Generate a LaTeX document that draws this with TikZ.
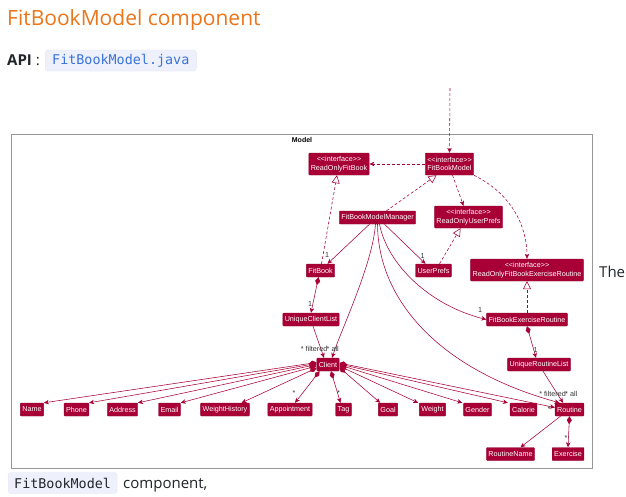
\documentclass[tikz,border=0pt]{standalone}
\usepackage{fontspec}
\setmainfont{Open Sans}
\newfontfamily\umlfam{Liberation Sans}
\newfontfamily\codefam{DejaVu Sans Mono}
\usetikzlibrary{arrows.meta}
\definecolor{umlred}{RGB}{168,0,54}
\definecolor{umlborder}{RGB}{140,0,45}
\definecolor{titleorange}{RGB}{234,117,26}
\definecolor{codeblue}{RGB}{55,115,220}
\definecolor{codebg}{RGB}{238,240,251}
\definecolor{codeborder}{RGB}{226,229,244}
\definecolor{framegray}{RGB}{150,150,150}
\definecolor{bodytext}{RGB}{33,37,41}
\newcommand\umlfont{\umlfam\fontsize{7.2}{8.6}\selectfont}
\newcommand\ifctext[1]{\textless\textless interface\textgreater\textgreater\\#1}
\tikzset{
  cls/.style={fill=umlred, draw=umlborder, line width=0.4pt, text=white, font=\umlfont,
    inner xsep=2pt, inner ysep=1pt, minimum height=13pt, rounded corners=0.8pt},
  ifc/.style={cls, minimum height=22pt, align=center},
  ln/.style={draw=umlred, line width=0.55pt},
  dep/.style={ln, dash pattern=on 3pt off 2pt, -{Stealth[length=5pt,width=4.5pt,inset=1.5pt]}},
  real/.style={ln, dash pattern=on 3pt off 2pt, -{Triangle[open,length=8pt,width=8pt,fill=white]}},
  asc/.style={ln, -{Stealth[length=5pt,width=4.5pt,inset=1.5pt]}},
  comp/.style={ln, {Diamond[length=8pt,width=5pt]}-{Stealth[length=5pt,width=4.5pt,inset=1.5pt]}},
  lbl/.style={font=\umlfont, text=black!80, inner sep=0pt},
}
\begin{document}
\begin{tikzpicture}[x=1pt,y=-1pt]
\useasboundingbox (0,0) rectangle (626,496);
\fill[white] (0,0) rectangle (626,496);

% page text
\node[anchor=base west, inner sep=0, text=titleorange, font=\fontsize{21}{25}\selectfont] (title) at (7,25.5) {FitBookModel component};
\node[anchor=base west, inner sep=0, text=bodytext, font=\fontsize{15}{18}\selectfont] (apilbl) at (7,65) {{\bfseries API} :};
\node[anchor=west, fill=codebg, draw=codeborder, rounded corners=3pt, inner xsep=7pt, inner ysep=0pt, minimum height=21pt,
  text=codeblue, font=\codefam\fontsize{13.4}{16}\selectfont] (api) at (45,60.5) {FitBookModel.java};
\node[anchor=base west, inner sep=0, text=bodytext, font=\fontsize{15}{18}\selectfont] (the) at (599,277) {The};
\node[anchor=west, fill=codebg, draw=codeborder, rounded corners=3pt, inner xsep=6pt, inner ysep=0pt, minimum height=21pt,
  text=bodytext, font=\codefam\fontsize{13.4}{16}\selectfont] (fbmcode) at (8,483) {FitBookModel};
\node[anchor=base west, inner sep=0, text=bodytext, font=\fontsize{15}{18}\selectfont] (comp) at (123,488) {component,};

% frame
\draw[framegray, line width=0.9pt] (11,134) rectangle (592,468);
\node[font=\umlfam\bfseries\fontsize{7}{8}\selectfont, inner sep=0] (model) at (302,140) {Model};

% nodes
\node[ifc] (rofb) at (339,164) {\ifctext{ReadOnlyFitBook}};
\node[ifc] (fbm) at (449.5,164) {\ifctext{FitBookModel}};
\node[cls] (mgr) at (377.5,217.5) {FitBookModelManager};
\node[ifc] (rup) at (468.5,217) {\ifctext{ReadOnlyUserPrefs}};
\node[cls] (fb) at (320.5,270.5) {FitBook};
\node[cls] (up) at (433.5,270.5) {UserPrefs};
\node[ifc] (rofer) at (527,270) {\ifctext{ReadOnlyFitBookExerciseRoutine}};
\node[cls] (ucl) at (311,319.5) {UniqueClientList};
\node[cls] (fer) at (527,319.5) {FitBookExerciseRoutine};
\node[cls] (url) at (539,364.5) {UniqueRoutineList};
\node[cls] (cl) at (328,364.5) {Client};
\node[cls] (nName) at (32,409.5) {Name};
\node[cls] (nPhone) at (76.5,409.5) {Phone};
\node[cls] (nAddr) at (122.5,409.5) {Address};
\node[cls] (nEmail) at (169.5,409.5) {Email};
\node[cls] (nWH) at (225,409.5) {WeightHistory};
\node[cls] (nAppt) at (290,409.5) {Appointment};
\node[cls] (nTag) at (343.5,409.5) {Tag};
\node[cls] (nGoal) at (388,409.5) {Goal};
\node[cls] (nWeight) at (432.5,409.5) {Weight};
\node[cls] (nGender) at (477.5,409.5) {Gender};
\node[cls] (nCal) at (523.5,409.5) {Calorie};
\node[cls] (rt) at (569.5,409.5) {Routine};
\node[cls] (rn) at (510.5,454) {RoutineName};
\node[cls] (ex) at (568,454) {Exercise};

% interface links
\coordinate (topin) at (450,88);
\draw[dep] (topin) -- (fbm.north);
\draw[dep] (fbm.west) -- (rofb.east);
\draw[real] ([xshift=9pt]mgr.north) -- ([xshift=-13pt]fbm.south);
\draw[real] ([xshift=1pt]fb.north) -- ([xshift=-2pt]rofb.south);
\draw[dep] ([xshift=3pt]fbm.south) -- ([xshift=-5pt]rup.north);
\draw[real] ([xshift=6pt]up.north) -- ([xshift=-8pt]rup.south);
\draw[dep] (fbm.south east) .. controls +(40,20) and +(0,-30) .. (rofer.north);
\draw[real] (fer.north) -- (rofer.south);

% manager associations
\draw[asc] ([xshift=-8pt]mgr.south) -- ([xshift=7pt]fb.north);
\node[lbl] (l1) at (327,255) {1};
\draw[asc] ([xshift=7pt]mgr.south) -- ([xshift=-8pt]up.north);
\node[lbl] (l2) at (422.5,256) {1};
\draw[asc] ([xshift=2pt]mgr.south) .. controls +(8,41) and +(-56,-14) .. (fer.west);
\node[lbl] (l3) at (480,310) {1};
\draw[asc] ([xshift=-2pt]mgr.south) .. controls +(-3,40) and +(10,-30) .. ([xshift=4pt]cl.north);
\draw[asc] (mgr.south) .. controls +(0.5,76) and +(-120,-33) .. ([xshift=-10pt]rt.north);

% client list
\draw[comp] ([xshift=-2pt]fb.south) -- (ucl.north);
\node[lbl] (l4) at (310,304) {1};
\draw[asc] ([xshift=2pt]ucl.south) -- ([xshift=-4pt]cl.north);
\node[lbl, anchor=east] (l5) at (327.5,349) {* filtered};
\node[lbl, anchor=west] (l6) at (326.5,349) {* all};

% client attributes
\draw[comp] ([yshift=2pt]cl.west) -- (nName.north east);
\draw[comp] ([yshift=1pt]cl.west) -- (nPhone.north east);
\draw[comp] ([yshift=0pt]cl.west) -- (nAddr.north east);
\draw[comp] ([yshift=-1.5pt]cl.west) -- (nEmail.north east);
\draw[comp] ([yshift=-3.5pt]cl.west) -- ([xshift=-8pt]nWH.north east);
\draw[comp] ([xshift=3pt]cl.south west) -- ([xshift=5pt]nAppt.north);
\node[lbl] (l7) at (294,393.5) {*};
\draw[comp] ([xshift=3pt]cl.south) -- ([xshift=-3pt]nTag.north);
\node[lbl] (l8) at (338.5,393.5) {*};
\draw[comp] ([yshift=-3pt]cl.east) -- ([xshift=2pt]nGoal.north west);
\draw[comp] ([yshift=-1.5pt]cl.east) -- ([xshift=-1pt]nWeight.north west);
\draw[comp] ([yshift=-0.5pt]cl.east) -- ([xshift=-1pt]nGender.north west);
\draw[comp] ([yshift=0.5pt]cl.east) -- ([xshift=-2pt]nCal.north west);
\draw[comp] ([yshift=1.5pt]cl.east) -- ([yshift=2pt]rt.west);
\node[lbl] (l9) at (549,409) {*};

% routine list
\draw[comp] (fer.south) -- ([xshift=-3pt]url.north);
\node[lbl] (l10) at (535.5,350) {1};
\draw[asc] ([xshift=4pt]url.south) -- ([xshift=-6.5pt]rt.north);
\node[lbl, anchor=east] (l11) at (566,394) {* filtered};
\node[lbl, anchor=west] (l12) at (565,394) {* all};
\draw[asc] ([xshift=-9pt]rt.south) -- ([xshift=10pt]rn.north);
\draw[comp] (rt.south) -- (ex.north);
\node[lbl] (l13) at (566,438) {*};
\end{tikzpicture}
\end{document}
